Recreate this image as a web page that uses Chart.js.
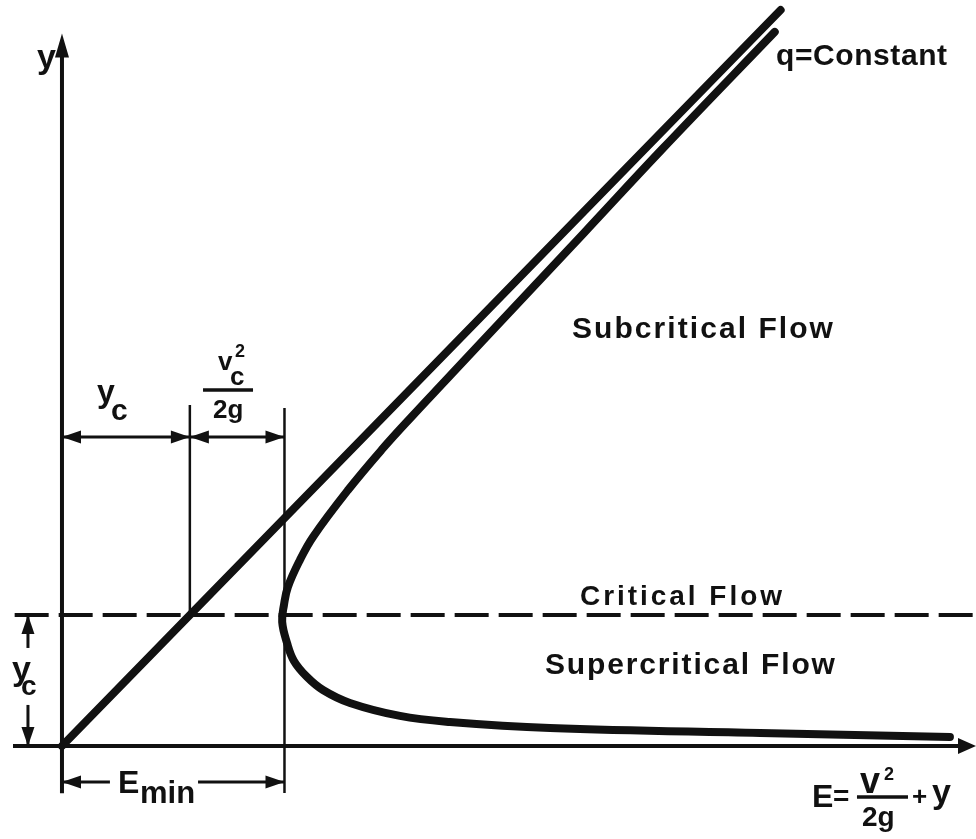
<!DOCTYPE html>
<html>
<head>
<meta charset="utf-8">
<script src="https://cdn.jsdelivr.net/npm/chart.js@4.4.0/dist/chart.umd.min.js"></script>
<style>
  html, body { margin: 0; padding: 0; background: #fff; }
</style>
</head>
<body>
<canvas id="chart" width="976" height="839"></canvas>
<script>
// specific energy diagram, everything in units of yc
const yc = 1.0;
const eMin = 1.74;

// E = y line
const lineE = [0, 5.62];
const lineY = [0, 5.62];

// q = constant curve (top end -> vertex -> far right)
const curveE = [5.574, 4.688, 4.082, 3.274, 3.003, 2.747, 2.499, 2.237, 1.963, 1.861, 1.767, 1.736, 1.722,
                1.760, 1.814, 1.916, 2.041, 2.252, 2.643, 3.034, 3.816, 5.459, 6.944];
const curveY = [5.453, 4.552, 3.918, 3.078, 2.795, 2.528, 2.261, 1.955, 1.597, 1.421, 1.215, 1.077, 0.948,
                0.787, 0.650, 0.528, 0.428, 0.329, 0.230, 0.184, 0.138, 0.100, 0.069];

// critical depth line
const critE = [-0.37, 7.14];

const ink = '#111';
const FONT = '"Liberation Sans", Arial, sans-serif';

function pts(xs, ys) {
  return xs.map((x, i) => ({ x: x, y: ys[i] }));
}

// text pieces: e / v are positions in chart units (left edge, baseline)
const labels = [
  { t: 'y', e: -0.196, v: 5.18, size: 34 },
  { t: 'q=Constant', e: 5.584, v: 5.20, size: 30, w: 171 },
  { t: 'Subcritical Flow', e: 3.988, v: 3.115, size: 30, w: 261 },
  { t: 'Critical Flow', e: 4.051, v: 1.078, size: 28, w: 202 },
  { t: 'Supercritical Flow', e: 3.777, v: 0.55, size: 30, w: 290 },
  // y_c over the arrow
  { t: 'y', e: 0.274, v: 2.627, size: 32 },
  { t: 'c', e: 0.383, v: 2.49, size: 30 },
  // vc^2 / 2g
  { t: 'v', e: 1.22, v: 2.871, size: 26 },
  { t: 'c', e: 1.314, v: 2.757, size: 26 },
  { t: '2', e: 1.353, v: 2.97, size: 18 },
  { t: '2g', e: 1.181, v: 2.505, size: 26 },
  // y_c on the left
  { t: 'y', e: -0.391, v: 0.505, size: 34 },
  { t: 'c', e: -0.321, v: 0.39, size: 28 },
  // E_min
  { t: 'E', e: 0.438, v: -0.358, size: 32 },
  { t: 'min', e: 0.61, v: -0.434, size: 31 },
  // E = v^2/2g + y
  { t: 'E', e: 5.865, v: -0.466, size: 32 },
  { t: '=', e: 6.03, v: -0.45, size: 28 },
  { t: 'v', e: 6.241, v: -0.358, size: 36 },
  { t: '2', e: 6.428, v: -0.258, size: 18 },
  { t: '2g', e: 6.256, v: -0.61, size: 28 },
  { t: '+', e: 6.647, v: -0.45, size: 26 },
  { t: 'y', e: 6.804, v: -0.435, size: 34 }
];

function arrowHead(ctx, x, y, ang, len, half) {
  ctx.save();
  ctx.translate(x, y);
  ctx.rotate(ang);
  ctx.beginPath();
  ctx.moveTo(0, 0);
  ctx.lineTo(-len, -half);
  ctx.lineTo(-len, half);
  ctx.closePath();
  ctx.fill();
  ctx.restore();
}

function seg(ctx, x1, y1, x2, y2, w) {
  ctx.lineWidth = w;
  ctx.beginPath();
  ctx.moveTo(x1, y1);
  ctx.lineTo(x2, y2);
  ctx.stroke();
}

const diagram = {
  id: 'diagram',
  beforeDatasetsDraw(chart) {
    const ctx = chart.ctx;
    const X = v => chart.scales.x.getPixelForValue(v);
    const Y = v => chart.scales.y.getPixelForValue(v);
    ctx.save();
    ctx.strokeStyle = ink;
    ctx.fillStyle = ink;
    ctx.lineCap = 'butt';
    // x axis with arrow
    seg(ctx, X(-0.383), Y(0), X(7.148) - 14, Y(0), 4);
    arrowHead(ctx, X(7.148), Y(0), 0, 18, 8);
    // y axis with arrow
    seg(ctx, X(0), Y(-0.36), X(0), Y(5.44) + 18, 4);
    arrowHead(ctx, X(0), Y(5.44), -Math.PI / 2, 24, 7);
    ctx.restore();
  },
  afterDatasetsDraw(chart) {
    const ctx = chart.ctx;
    const X = v => chart.scales.x.getPixelForValue(v);
    const Y = v => chart.scales.y.getPixelForValue(v);
    ctx.save();
    ctx.strokeStyle = ink;
    ctx.fillStyle = ink;

    // extension lines
    seg(ctx, X(yc), Y(2.604), X(yc), Y(yc), 2.5);
    seg(ctx, X(eMin), Y(2.581), X(eMin), Y(-0.358), 2.5);

    // y_c and vc^2/2g arrows
    const r = Y(2.36);
    seg(ctx, X(0), r, X(eMin), r, 3);
    arrowHead(ctx, X(0), r, Math.PI, 19, 6.5);
    arrowHead(ctx, X(yc), r, 0, 19, 6.5);
    arrowHead(ctx, X(yc), r, Math.PI, 19, 6.5);
    arrowHead(ctx, X(eMin), r, 0, 19, 6.5);

    // E_min arrow
    const m = Y(-0.274);
    seg(ctx, X(0), m, X(0.375), m, 3);
    seg(ctx, X(1.064), m, X(eMin), m, 3);
    arrowHead(ctx, X(0), m, Math.PI, 19, 6.5);
    arrowHead(ctx, X(eMin), m, 0, 19, 6.5);

    // y_c arrow on the left
    const lx = X(-0.266);
    seg(ctx, lx, Y(yc), lx, Y(0.749), 3);
    seg(ctx, lx, Y(0.314), lx, Y(0), 3);
    arrowHead(ctx, lx, Y(yc), -Math.PI / 2, 19, 6.5);
    arrowHead(ctx, lx, Y(0), Math.PI / 2, 19, 6.5);

    // fraction bars
    seg(ctx, X(1.103), Y(2.719), X(1.494), Y(2.719), 3.5);
    seg(ctx, X(6.217), Y(-0.389), X(6.616), Y(-0.389), 3.5);

    // texts
    ctx.textBaseline = 'alphabetic';
    ctx.textAlign = 'left';
    labels.forEach(l => {
      ctx.font = 'bold ' + l.size + 'px ' + FONT;
      ctx.letterSpacing = '0px';
      if (l.w) {
        const w = ctx.measureText(l.t).width;
        ctx.letterSpacing = ((l.w - w) / (l.t.length - 1)) + 'px';
      }
      ctx.fillText(l.t, X(l.e), Y(l.v));
    });
    ctx.restore();
  }
};

new Chart(document.getElementById('chart'), {
  type: 'scatter',
  data: {
    datasets: [
      {
        label: 'E = y',
        data: pts(lineE, lineY),
        showLine: true,
        borderColor: ink,
        borderWidth: 8,
        borderCapStyle: 'round',
        pointRadius: 0,
        clip: false
      },
      {
        label: 'q = constant',
        data: pts(curveE, curveY),
        showLine: true,
        borderColor: ink,
        borderWidth: 8,
        borderCapStyle: 'round',
        borderJoinStyle: 'round',
        tension: 0.4,
        pointRadius: 0,
        clip: false
      },
      {
        label: 'critical',
        data: pts(critE, [yc, yc]),
        showLine: true,
        borderColor: ink,
        borderWidth: 4,
        borderDash: [34, 10],
        pointRadius: 0,
        clip: false
      }
    ]
  },
  options: {
    responsive: false,
    animation: false,
    layout: { padding: { left: 13, right: 1, top: 10, bottom: 34 } },
    plugins: {
      legend: { display: false },
      tooltip: { enabled: false }
    },
    scales: {
      x: { type: 'linear', min: -0.383, max: 7.14, display: false },
      y: { type: 'linear', min: -0.45, max: 5.62, display: false }
    }
  },
  plugins: [diagram]
});
</script>
</body>
</html>
